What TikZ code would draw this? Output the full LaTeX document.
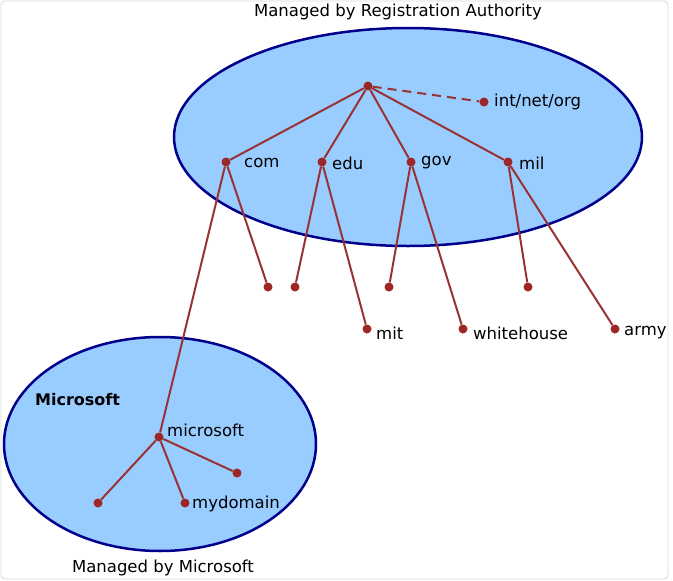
\documentclass[tikz,border=0pt]{standalone}
\usepackage{fontspec}
\setmainfont{DejaVu Sans}
\begin{document}
\begin{tikzpicture}[x=1pt,y=-1pt,
  dot/.style={circle,fill=red!55!black!85,inner sep=0pt,minimum size=9pt},
  ln/.style={draw=red!50!black!80,line width=2pt},
  lbl/.style={font=\fontsize{16.5}{18}\selectfont,anchor=west,inner sep=1pt},
  zone/.style={draw=blue!55!black,line width=2.5pt,fill={rgb,255:red,153;green,204;blue,255}}]
\useasboundingbox (0,0) rectangle (673,581);
\draw[gray!30,rounded corners=4pt,line width=0.8pt] (1,1) rectangle (668,579);
\draw[zone] (408,137) ellipse [x radius=234,y radius=109];
\draw[zone] (160,444) ellipse [x radius=156,y radius=107];
\node[font=\fontsize{16.5}{18}\selectfont] (t1) at (398,12) {Managed by Registration Authority};
\node[font=\fontsize{16.5}{18}\selectfont] (t2) at (163,568) {Managed by Microsoft};
\node[font=\bfseries\fontsize{16}{18}\selectfont,anchor=west,inner sep=0pt] (ms) at (35,400) {Microsoft};
\node[dot] (root) at (368,86) {};
\node[dot] (int) at (484,102) {};
\node[dot] (com) at (226,162) {};
\node[dot] (edu) at (322,162) {};
\node[dot] (gov) at (411,162) {};
\node[dot] (mil) at (508,162) {};
\node[dot] (c1) at (268,287) {};
\node[dot] (e1) at (295,287) {};
\node[dot] (mit) at (367,329) {};
\node[dot] (g1) at (389,287) {};
\node[dot] (wh) at (463,329) {};
\node[dot] (m1) at (528,287) {};
\node[dot] (army) at (615,329) {};
\node[dot] (msn) at (159,437) {};
\node[dot] (a1) at (98,503) {};
\node[dot] (md) at (185,503) {};
\node[dot] (a2) at (237,473) {};
\node[lbl] at (493,102) {int/net/org};
\node[lbl] at (243,163) {com};
\node[lbl] at (331,163) {edu};
\node[lbl] at (420,163) {gov};
\node[lbl] at (518,163) {mil};
\node[lbl] at (375,333) {mit};
\node[lbl] at (472,333) {whitehouse};
\node[lbl] at (623,333) {army};
\node[lbl] at (166,430) {microsoft};
\node[lbl] at (191,504) {mydomain};
\draw[ln,dash pattern=on 9pt off 6pt] (root) -- (int);
\draw[ln] (root)--(com) (root)--(edu) (root)--(gov) (root)--(mil)
  (com)--(c1) (com)--(msn) (edu)--(e1) (edu)--(mit) (gov)--(g1) (gov)--(wh)
  (mil)--(m1) (mil)--(army) (msn)--(a1) (msn)--(md) (msn)--(a2);
\end{tikzpicture}
\end{document}
